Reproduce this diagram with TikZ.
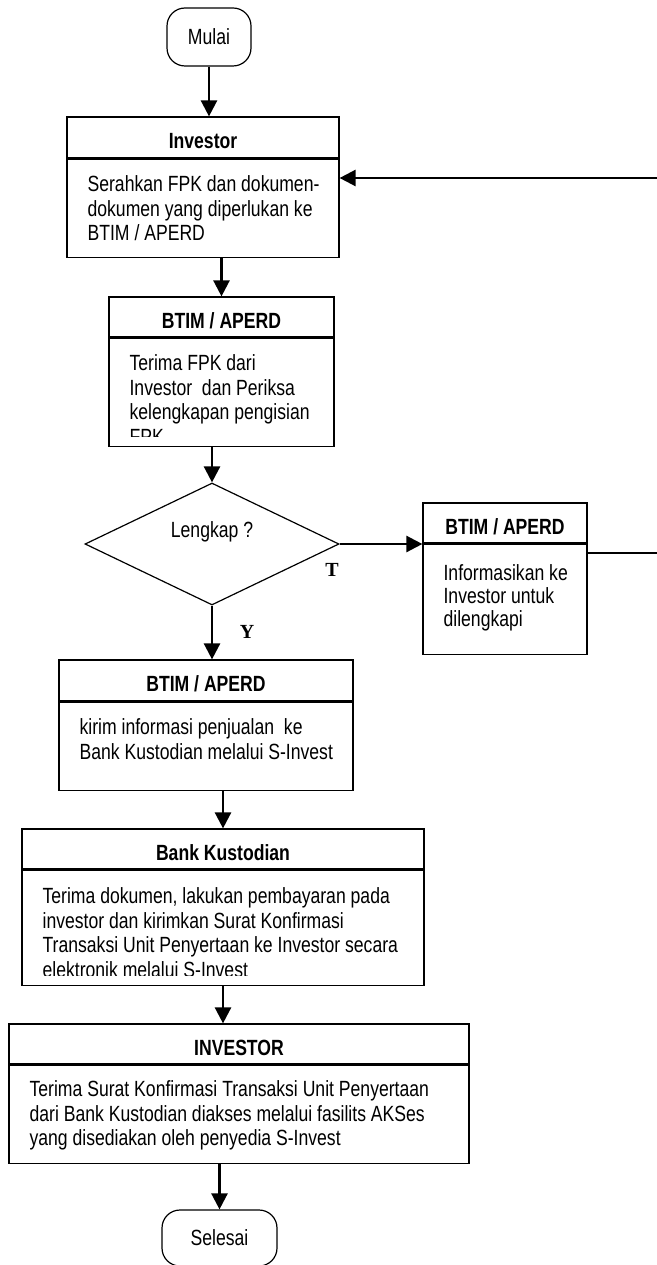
\documentclass[tikz,border=0pt]{standalone}
\usepackage{fontspec}
\setmainfont{Liberation Sans}[FakeStretch=0.8]
\newfontfamily\labelfont{Liberation Serif}
\usetikzlibrary{arrows.meta,shapes.geometric,positioning}

\begin{document}
\begin{tikzpicture}[x=1pt,y=-1pt]
    \tikzset{term/.style = {shape=rectangle,draw,line width=1.2pt,rounded corners=18pt,font=\fontsize{22}{24.5}\selectfont}}
    \tikzset{head/.style = {shape=rectangle,draw,line width=1.2pt,inner sep=0pt,text height=22pt,text depth=0pt,font=\fontsize{22}{24.5}\selectfont\bfseries}}
    \tikzset{body/.style = {shape=rectangle,draw,line width=1.2pt,inner sep=0pt}}
    \tikzset{txt/.style = {anchor=north west,align=left,inner sep=0pt,font=\fontsize{22}{24.5}\selectfont}}
    \tikzset{yn/.style = {font=\fontsize{20}{20}\labelfont\bfseries}}
    \tikzset{edge/.style = {-{Triangle[length=16pt,width=16pt]},line width=2.5pt}}
    \useasboundingbox (0,0) rectangle (656,1265);
    % vertices
    \node[term,minimum width=84pt,minimum height=58pt] (start) at (209,37) {Mulai};
    \node[head,minimum width=272pt,minimum height=41pt] (h1) at (203,137.5) {Investor};
    \node[body,minimum width=272pt,minimum height=98pt,below=0pt of h1] (b1) {};
    \node[txt] at ([shift={(21,17)}]b1.north west) {Serahkan FPK dan dokumen-\\dokumen yang diperlukan ke\\BTIM / APERD};
    \node[head,minimum width=225pt,minimum height=40pt] (h2) at (221.5,317) {BTIM / APERD};
    \node[body,minimum width=225pt,minimum height=108pt,below=0pt of h2] (b2) {};
    \begin{scope}
        \clip (b2.north west) rectangle ([yshift=10pt]b2.south east);
        \node[txt] at ([shift={(21,17)}]b2.north west) {Terima FPK dari\\Investor~ dan Periksa\\kelengkapan pengisian\\FPK};
    \end{scope}
    \node[shape=diamond,draw,line width=1.2pt,inner sep=0pt,minimum width=254pt,minimum height=122pt] (dec) at (212,544) {};
    \node[font=\fontsize{22}{24.5}\selectfont] at ([yshift=12pt]dec.center) {Lengkap ?};
    \node[head,minimum width=164pt,minimum height=40pt] (h6) at (505,523) {BTIM / APERD};
    \node[body,minimum width=164pt,minimum height=110pt,below=0pt of h6] (b6) {};
    \node[txt,font=\fontsize{22}{23}\selectfont] at ([shift={(21,21)}]b6.north west) {Informasikan ke\\Investor untuk\\dilengkapi};
    \node[head,minimum width=294pt,minimum height=41pt] (h3) at (206,680.5) {BTIM / APERD};
    \node[body,minimum width=294pt,minimum height=88pt,below=0pt of h3] (b3) {};
    \node[txt] at ([shift={(21,17)}]b3.north west) {kirim informasi penjualan~ ke\\Bank Kustodian melalui S-Invest};
    \node[head,minimum width=402pt,minimum height=40pt] (h4) at (223,849) {Bank Kustodian};
    \node[body,minimum width=402pt,minimum height=115pt,below=0pt of h4] (b4) {};
    \begin{scope}
        \clip (b4.north west) rectangle ([yshift=10pt]b4.south east);
        \node[txt] at ([shift={(21,18)}]b4.north west) {Terima dokumen, lakukan pembayaran pada\\investor dan kirimkan Surat Konfirmasi\\Transaksi Unit Penyertaan ke Investor secara\\elektronik melalui S-Invest};
    \end{scope}
    \node[head,minimum width=460pt,minimum height=40pt] (h5) at (239,1044) {INVESTOR};
    \node[body,minimum width=460pt,minimum height=98pt,below=0pt of h5] (b5) {};
    \node[txt] at ([shift={(21,16)}]b5.north west) {Terima Surat Konfirmasi Transaksi Unit Penyertaan\\dari Bank Kustodian diakses melalui fasilits AKSes\\yang disediakan oleh penyedia S-Invest};
    \node[term,minimum width=115pt,minimum height=56pt] (stop) at (219.5,1238) {Selesai};
    \node[yn] (T) at (332,570) {T};
    \node[yn] (Y) at (247,632) {Y};
    \coordinate (r1) at (658,553);
    \coordinate (r2) at (658,178);
    % edges
    \draw[edge] (start.south) -- (start.south |- h1.north);
    \draw[edge] (b1.south -| h2.north) -- (h2.north);
    \draw[edge] (b2.south -| dec.north) -- (dec.north);
    \draw[edge] (dec.east) -- (dec.east -| h6.west);
    \draw[edge] (dec.south) -- (dec.south |- h3.north);
    \draw[edge] (b3.south -| h4.north) -- (h4.north);
    \draw[edge] (b4.south) -- (b4.south |- h5.north);
    \draw[edge] (b5.south -| stop.north) -- (stop.north);
    \draw[line width=1.5pt] (b6.east |- r1) -- (r1);
    \draw[edge] (r2) -- (b1.east |- r2);
\end{tikzpicture}
\end{document}
